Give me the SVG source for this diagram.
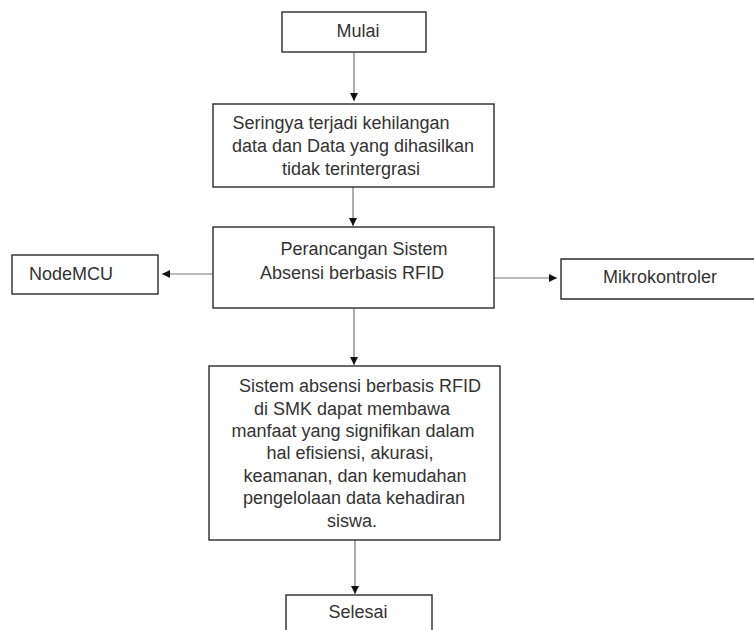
<svg xmlns="http://www.w3.org/2000/svg" width="754" height="630" viewBox="0 0 754 630">
<style>
.box{fill:#fff;stroke:#2a2a2a;stroke-width:1.4}
.t{font-family:"Liberation Sans",Arial,sans-serif;font-size:18px;fill:#333;text-anchor:middle}
.c{fill:none;stroke:#777;stroke-width:1.2}
</style>
<defs>
<marker id="ah" viewBox="0 0 10 10" refX="10" refY="5" markerWidth="8" markerHeight="8" markerUnits="userSpaceOnUse" orient="auto">
<path d="M0,0 L10,5 L0,10 Z" fill="#111"/>
</marker>
</defs>
<rect width="754" height="630" fill="#fff"/>
<g id="connectors">
<line class="c" x1="354" y1="52" x2="354" y2="101" marker-end="url(#ah)"/>
<line class="c" x1="353" y1="187" x2="353" y2="226" marker-end="url(#ah)"/>
<line class="c" x1="213" y1="274" x2="162" y2="274" marker-end="url(#ah)"/>
<line class="c" x1="494" y1="278" x2="557" y2="278" marker-end="url(#ah)"/>
<line class="c" x1="354" y1="308" x2="354" y2="365" marker-end="url(#ah)"/>
<line class="c" x1="355" y1="540" x2="355" y2="594" marker-end="url(#ah)"/>
</g>
<g id="mulai">
<rect class="box" x="282" y="12" width="144" height="40"/>
<text class="t" x="358" y="37">Mulai</text>
</g>
<g id="masalah">
<rect class="box" x="213" y="104" width="281" height="83"/>
<text class="t" x="341" y="129">Seringya terjadi kehilangan</text>
<text class="t" x="353" y="152">data dan Data yang dihasilkan</text>
<text class="t" x="351" y="175">tidak terintergrasi</text>
</g>
<g id="perancangan">
<rect class="box" x="213" y="227" width="281" height="81"/>
<text class="t" x="364" y="255">Perancangan Sistem</text>
<text class="t" x="352" y="279">Absensi berbasis RFID</text>
</g>
<g id="nodemcu">
<rect class="box" x="12" y="255" width="146" height="39"/>
<text class="t" x="71" y="280">NodeMCU</text>
</g>
<g id="mikrokontroler">
<path class="box" d="M756,259 H561 V299 H756"/>
<text class="t" x="660" y="283">Mikrokontroler</text>
</g>
<g id="hasil">
<rect class="box" x="209" y="366" width="291" height="174"/>
<text class="t" x="360" y="392">Sistem absensi berbasis RFID</text>
<text class="t" x="352" y="415">di SMK dapat membawa</text>
<text class="t" x="353" y="437">manfaat yang signifikan dalam</text>
<text class="t" x="350" y="459">hal efisiensi, akurasi,</text>
<text class="t" x="355" y="482">keamanan, dan kemudahan</text>
<text class="t" x="354" y="504">pengelolaan data kehadiran</text>
<text class="t" x="352" y="527">siswa.</text>
</g>
<g id="selesai">
<rect class="box" x="286" y="595" width="146" height="45"/>
<text class="t" x="358" y="618">Selesai</text>
</g>
</svg>
